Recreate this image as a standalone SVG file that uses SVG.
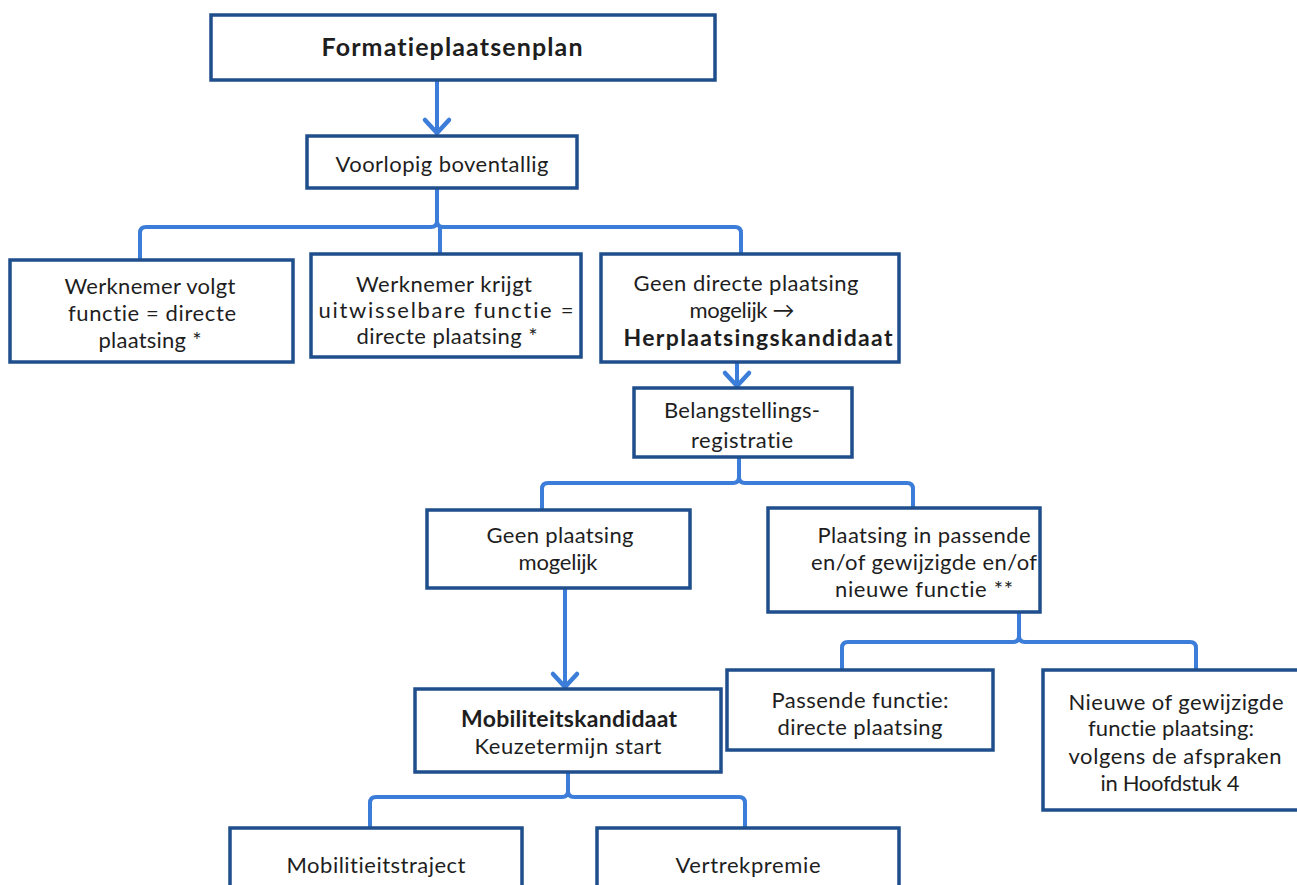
<svg xmlns="http://www.w3.org/2000/svg" width="1297" height="885" viewBox="0 0 1297 885">
<style>
.box{fill:#fff;stroke:#1f4e8c;stroke-width:3.5}
.t{font-family:Lato,"Open Sans",sans-serif;font-size:22px;fill:#1e1e1e;text-anchor:middle;font-variant-ligatures:none}
.b{font-weight:bold;font-size:23px}
.c{fill:none;stroke:#3b7dd8;stroke-width:4;stroke-linejoin:round;stroke-linecap:round}
</style>
<defs>
<marker id="ah" markerUnits="userSpaceOnUse" markerWidth="30" markerHeight="30" refX="0" refY="0" orient="auto" overflow="visible">
<path d="M-13,-12 L0,0 L-13,12" fill="none" stroke="#3b7dd8" stroke-width="4.5" stroke-linecap="round" stroke-linejoin="round"/>
</marker>
</defs>
<rect width="1297" height="885" fill="#fff"/>
<g id="connectors">
<path class="c" d="M437,81 V133" marker-end="url(#ah)"/>
<path class="c" d="M437,189 V221 Q437,227 431,227 H146 Q140,227 140,233 V259 M437,221 Q437,227 443,227 H735 Q741,227 741,233 V253 M440,227 V253"/>
<path class="c" d="M737,363 V386" marker-end="url(#ah)"/>
<path class="c" d="M739,458 V477 Q739,483 733,483 H548 Q542,483 542,489 V509 M739,477 Q739,483 745,483 H907 Q913,483 913,489 V507"/>
<path class="c" d="M565,589 V687" marker-end="url(#ah)"/>
<path class="c" d="M1019,613 V636 Q1019,642 1013,642 H848 Q842,642 842,648 V669 M1019,636 Q1019,642 1025,642 H1190 Q1196,642 1196,648 V669"/>
<path class="c" d="M568,773 V791 Q568,797 562,797 H376 Q370,797 370,803 V827 M568,791 Q568,797 574,797 H739 Q745,797 745,803 V827"/>
</g>
<g id="n1"><rect class="box" x="211" y="15" width="504" height="65"/><text class="t b" x="452" y="56" style="font-size:25px" textLength="261" lengthAdjust="spacing">Formatieplaatsenplan</text></g>
<g id="n2"><rect class="box" x="307" y="136" width="270" height="52"/><text class="t" x="442" y="172" textLength="213" lengthAdjust="spacing">Voorlopig boventallig</text></g>
<g id="n3"><rect class="box" x="10" y="260" width="283" height="102"/><text class="t" x="150" y="294" textLength="171" lengthAdjust="spacing">Werknemer volgt</text><text class="t" x="152" y="321" textLength="168" lengthAdjust="spacing">functie = directe</text><text class="t" x="150" y="348" textLength="103" lengthAdjust="spacing">plaatsing *</text></g>
<g id="n4"><rect class="box" x="311" y="254" width="270" height="103"/><text class="t" x="444" y="292" textLength="176" lengthAdjust="spacing">Werknemer krijgt</text><text class="t" x="446" y="318" textLength="255" lengthAdjust="spacing">uitwisselbare functie =</text><text class="t" x="447" y="344" textLength="181" lengthAdjust="spacing">directe plaatsing *</text></g>
<g id="n5"><rect class="box" x="601" y="254" width="298" height="108"/><text class="t" x="746" y="291" textLength="225" lengthAdjust="spacing">Geen directe plaatsing</text><text class="t" x="742" y="318" textLength="105" lengthAdjust="spacing">mogelijk →</text><text class="t b" x="758" y="346" textLength="269" lengthAdjust="spacing">Herplaatsingskandidaat</text></g>
<g id="n6"><rect class="box" x="634" y="388" width="218" height="69"/><text class="t" x="742" y="418" textLength="156" lengthAdjust="spacing">Belangstellings-</text><text class="t" x="742" y="448" textLength="102" lengthAdjust="spacing">registratie</text></g>
<g id="n7"><rect class="box" x="427" y="510" width="263" height="78"/><text class="t" x="560" y="543" textLength="147" lengthAdjust="spacing">Geen plaatsing</text><text class="t" x="558" y="570" textLength="79" lengthAdjust="spacing">mogelijk</text></g>
<g id="n8"><rect class="box" x="768" y="508" width="272" height="104"/><text class="t" x="924" y="543" textLength="213" lengthAdjust="spacing">Plaatsing in passende</text><text class="t" x="924" y="570" textLength="226" lengthAdjust="spacing">en/of gewijzigde en/of</text><text class="t" x="924" y="597" textLength="178" lengthAdjust="spacing">nieuwe functie **</text></g>
<g id="n9"><rect class="box" x="415" y="689" width="306" height="83"/><text class="t b" x="569" y="727" textLength="216" lengthAdjust="spacing">Mobiliteitskandidaat</text><text class="t" x="568" y="754" textLength="187" lengthAdjust="spacing">Keuzetermijn start</text></g>
<g id="n10"><rect class="box" x="727" y="670" width="266" height="80"/><text class="t" x="860" y="708" textLength="177" lengthAdjust="spacing">Passende functie:</text><text class="t" x="860" y="735" textLength="165" lengthAdjust="spacing">directe plaatsing</text></g>
<g id="n11"><rect class="box" x="1043" y="670" width="264" height="140"/><text class="t" x="1176" y="710" textLength="215" lengthAdjust="spacing">Nieuwe of gewijzigde</text><text class="t" x="1171" y="736" textLength="166" lengthAdjust="spacing">functie plaatsing:</text><text class="t" x="1175" y="764" textLength="213" lengthAdjust="spacing">volgens de afspraken</text><text class="t" x="1170" y="791" textLength="139" lengthAdjust="spacing">in Hoofdstuk 4</text></g>
<g id="n12"><rect class="box" x="230" y="828" width="292" height="80"/><text class="t" x="376" y="873" textLength="179" lengthAdjust="spacing">Mobilitieitstraject</text></g>
<g id="n13"><rect class="box" x="597" y="828" width="302" height="80"/><text class="t" x="748" y="873" textLength="145" lengthAdjust="spacing">Vertrekpremie</text></g>
</svg>
